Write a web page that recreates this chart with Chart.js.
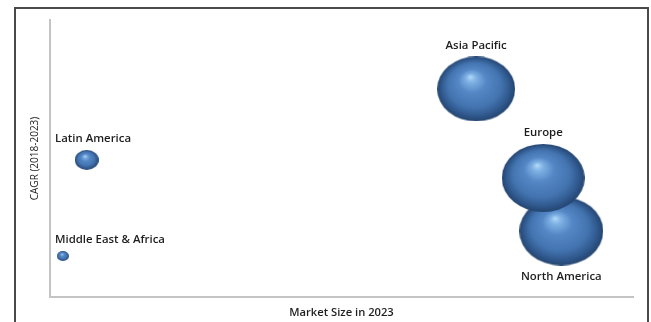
<!DOCTYPE html>
<html>
<head>
<meta charset="utf-8">
<script src="https://cdn.jsdelivr.net/npm/chart.js@4/dist/chart.umd.min.js"></script>
<style>
  html, body { margin: 0; padding: 0; background: #ffffff; }
  #wrap { width: 651px; height: 322px; position: relative; }
</style>
</head>
<body>
<div id="wrap"><canvas id="c" width="651" height="322"></canvas></div>
<script>
// Regions (North America listed before Europe so Europe draws on top of it)
const regions = ["North America", "Europe", "Asia Pacific", "Latin America", "Middle East & Africa"];
// Market size in 2023 (relative)
const marketSize = [87.7, 84.6, 73.1, 6.3, 2.2];
// CAGR 2018-2023 (relative)
const cagr = [23.8, 43.0, 75.1, 49.5, 14.8];
// Bubble size (relative)
const bubbleSize = [38.5, 38, 36, 11, 5.5];

const axisTitles = { x: "Market Size in 2023", y: "CAGR (2018-2023)" };

// label placement per region (style, not data)
const labelPlacement = ["below", "above", "above", "aboveLeft", "aboveLeft"];

const ELX = 1.09, ELY = 0.9;
const ballCache = {};
function makeBall(r) {
  const key = r.toFixed(2);
  if (ballCache[key]) return ballCache[key];
  const w = Math.max(2, Math.round(2 * r * ELX));
  const h = Math.max(2, Math.round(2 * r * ELY));
  const cv = document.createElement('canvas');
  cv.width = w; cv.height = h;
  const g = cv.getContext('2d');
  g.translate(w / 2, h / 2);
  g.scale(w / 2, h / 2);
  const grad = g.createRadialGradient(-0.15, -0.38, 0, 0, 0, 1);
  grad.addColorStop(0, '#b4dbf8');
  grad.addColorStop(0.13, '#80b2e5');
  grad.addColorStop(0.36, '#5587c6');
  grad.addColorStop(0.68, '#4475b1');
  grad.addColorStop(0.88, '#30588d');
  grad.addColorStop(1, '#24456f');
  g.beginPath();
  g.arc(0, 0, 1, 0, Math.PI * 2);
  g.fillStyle = grad;
  g.fill();
  ballCache[key] = cv;
  return cv;
}

const framePlugin = {
  id: 'frame',
  beforeDraw(chart) {
    const ctx = chart.ctx;
    ctx.save();
    ctx.fillStyle = '#ffffff';
    ctx.fillRect(0, 0, chart.width, chart.height);
    ctx.strokeStyle = '#4a4a4a';
    ctx.lineWidth = 2;
    ctx.strokeRect(15, 8, 633, 330);
    ctx.restore();
  }
};

const labelPlugin = {
  id: 'bubbleLabels',
  afterDatasetsDraw(chart) {
    const ctx = chart.ctx;
    const meta = chart.getDatasetMeta(0);
    ctx.save();
    ctx.font = '600 11.4px "Open Sans"';
    ctx.fillStyle = '#1e1e1e';
    ctx.textBaseline = 'middle';
    meta.data.forEach((pt, i) => {
      const r = bubbleSize[i];
      const mode = labelPlacement[i];
      if (mode === 'below') {
        ctx.textAlign = 'center';
        ctx.fillText(regions[i], pt.x, pt.y + r * ELY + 11);
      } else if (mode === 'aboveLeft') {
        ctx.textAlign = 'left';
        ctx.fillText(regions[i], chart.chartArea.left + 5, pt.y - r * ELY - 11);
      } else {
        ctx.textAlign = 'center';
        ctx.fillText(regions[i], pt.x, pt.y - r * ELY - 11);
      }
    });
    ctx.restore();
  }
};

new Chart(document.getElementById('c'), {
  type: 'bubble',
  data: {
    labels: regions,
    datasets: [{
      label: 'Regions',
      data: regions.map((n, i) => ({ x: marketSize[i], y: cagr[i], r: bubbleSize[i] })),
      pointStyle: (ctx) => makeBall(bubbleSize[ctx.dataIndex] || 1),
      backgroundColor: '#4f81bd',
      borderWidth: 0,
      clip: false
    }]
  },
  options: {
    responsive: false,
    animation: false,
    layout: { autoPadding: false, padding: { left: 16, right: 18, top: 20, bottom: 0 } },
    plugins: { legend: { display: false }, tooltip: { enabled: false } },
    scales: {
      x: {
        min: 0, max: 100,
        grid: { display: false },
        border: { display: true, color: '#c4c4c4', width: 2 },
        ticks: { display: false },
        title: { display: true, text: axisTitles.x, color: '#1e1e1e',
                 font: { family: 'Open Sans', size: 11.2, weight: '600' }, padding: { top: 0, bottom: 2 } },
        afterFit: (s) => { s.height = 25; }
      },
      y: {
        min: 0, max: 100,
        grid: { display: false },
        border: { display: true, color: '#c4c4c4', width: 2 },
        ticks: { display: false },
        title: { display: true, text: axisTitles.y, color: '#1e1e1e',
                 font: { family: 'Open Sans', size: 10, weight: 'normal' }, padding: { top: 13, bottom: 0 } },
        afterFit: (s) => { s.width = 34; }
      }
    }
  },
  plugins: [framePlugin, labelPlugin]
});
</script>
</body>
</html>
